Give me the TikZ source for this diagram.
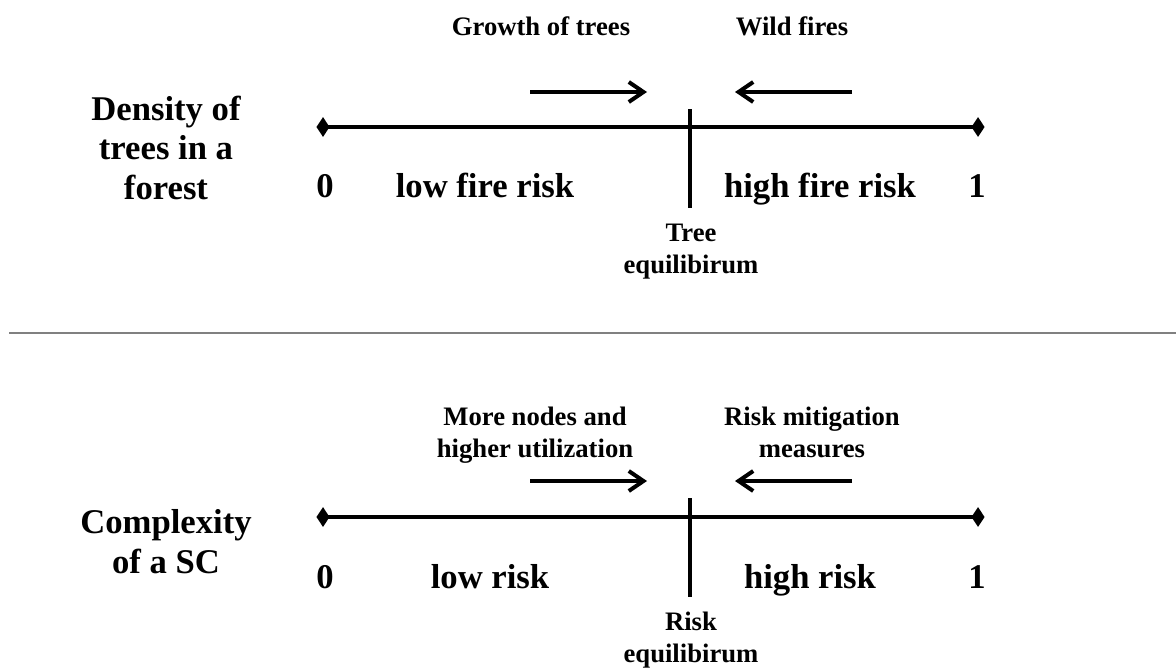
\documentclass[tikz,border=0pt]{standalone}
\usepackage{fontspec}
\setmainfont{Liberation Serif}
\usetikzlibrary{arrows.meta,shapes.geometric}
\begin{document}
\begin{tikzpicture}[x=0.75pt,y=-0.75pt,
  big/.style={font=\bfseries\fontsize{26}{29.5}\selectfont,inner sep=0pt,anchor=base,align=center},
  small/.style={font=\bfseries\fontsize{20}{23.5}\selectfont,inner sep=0pt,anchor=base,align=center},
  axis/.style={line width=3pt},
  tick/.style={line width=3pt},
  push/.style={line width=3pt,-{Straight Barb[length=11pt,width=15pt,line width=3pt]}},
  endmark/.style={diamond,fill=black,inner sep=0pt,minimum width=10pt,minimum height=15pt},
  sep/.style={line width=1.5pt,draw=black!50}]
\useasboundingbox (0,0) rectangle (1176,671);

% ---- forest panel ----
\node[endmark] (fa0) at (323,127) {};
\node[endmark] (fa1) at (978,127) {};
\draw[axis] (fa0.center) -- (fa1.center);
\coordinate (ftt) at (690,109);
\coordinate (ftb) at (690,208);
\draw[tick] (ftt) -- (ftb);
\coordinate (fgs) at (530,92);
\coordinate (fge) at (647,92);
\coordinate (fws) at (852,92);
\coordinate (fwe) at (735,92);
\draw[push] (fgs) -- (fge);
\draw[push] (fws) -- (fwe);
\node[small] (fgrowth) at (541,35) {Growth of trees};
\node[small] (fwild) at (792,35) {Wild fires};
% multi-line nodes: the base anchor sits on the last line
\node[big] (ftitle) at (166,199) {Density of\\trees in a\\forest};
\node[big] (fzero) at (325,197) {0};
\node[big] (flow) at (485,197) {low fire risk};
\node[big] (fhigh) at (820,197) {high fire risk};
\node[big] (fone) at (977,197) {1};
\node[small] (feq) at (691,273) {Tree\\equilibirum};

% ---- separator ----
\coordinate (sl) at (9,333);
\coordinate (sr) at (1176,333);
\draw[sep] (sl) -- (sr);

% ---- supply chain panel ----
\node[endmark] (sa0) at (323,517) {};
\node[endmark] (sa1) at (978,517) {};
\draw[axis] (sa0.center) -- (sa1.center);
\coordinate (stt) at (690,498);
\coordinate (stb) at (690,597);
\draw[tick] (stt) -- (stb);
\coordinate (sms) at (530,481);
\coordinate (sme) at (647,481);
\coordinate (srs) at (852,481);
\coordinate (sre) at (735,481);
\draw[push] (sms) -- (sme);
\draw[push] (srs) -- (sre);
\node[small] (smore) at (535,457) {More nodes and\\higher utilization};
\node[small] (smit) at (812,457) {Risk mitigation\\measures};
\node[big] (stitle) at (166,573) {Complexity\\of a SC};
\node[big] (szero) at (325,588) {0};
\node[big] (slow) at (490,588) {low risk};
\node[big] (shigh) at (810,588) {high risk};
\node[big] (sone) at (977,588) {1};
\node[small] (seq) at (691,662) {Risk\\equilibirum};
\end{tikzpicture}
\end{document}
